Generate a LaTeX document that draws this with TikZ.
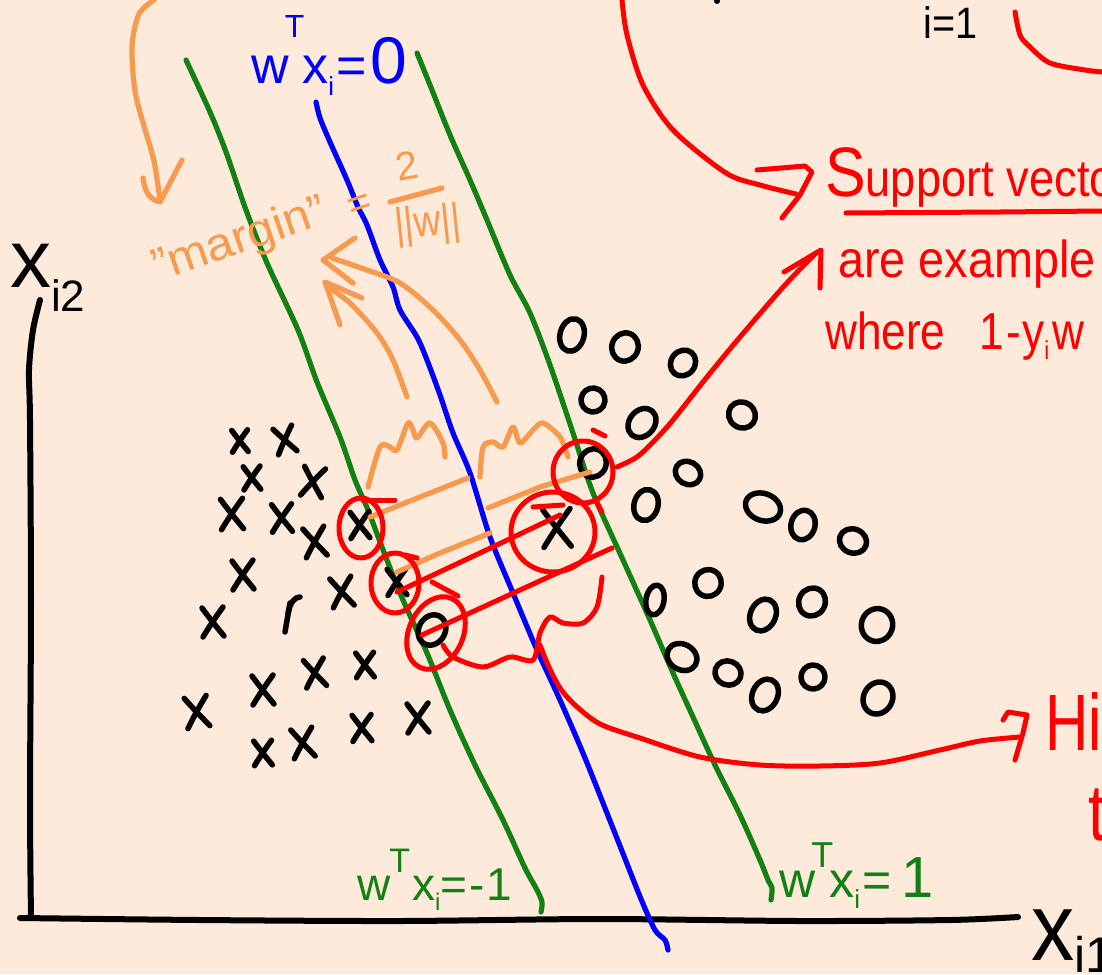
\documentclass[tikz,border=0pt]{standalone}
\usepackage{fontspec}
\setmainfont{Liberation Sans}
\usepackage{graphicx}
\definecolor{bg}{HTML}{FDEADB}
\definecolor{org}{HTML}{F79A4D}
\definecolor{grn}{HTML}{128012}
\definecolor{blu}{HTML}{0000FF}
\definecolor{rd}{HTML}{FF0000}
\begin{document}
\begin{tikzpicture}[x=1pt,y=-1pt, line cap=round, line join=round,
 ink/.style={black, line width=5.5pt},
 gline/.style={grn, line width=5.2pt},
 bline/.style={blu, line width=5.2pt},
 oline/.style={org, line width=5.2pt},
 rline/.style={rd, line width=5pt},
 axisline/.style={black, line width=6pt},
 lbl/.style={inner sep=0pt, anchor=base west},
 xm/.pic={\draw[ink] (-11,-14) .. controls (-3,-3) and (3,4) .. (11,14);
          \draw[ink] (10,-15) .. controls (2,-4) and (-4,5) .. (-10,15);},
 om/.pic={\draw[ink] (0,0) ellipse (12pt and 15pt);},
]
\useasboundingbox (0,0) rectangle (1102,974);
\fill[bg] (0,0) rectangle (1102,974);
\clip (0,0) rectangle (1102,974);

% axes
\draw[axisline] plot[smooth] coordinates {(40,300) (33,330) (29,370) (30,420) (31,600) (30,800) (31,918)};
\draw[axisline] plot[smooth] coordinates {(20,918) (200,920) (400,921) (600,919) (800,921) (950,920) (1018,917)};

% margin lines
\draw[gline] plot[smooth, tension=0.5] coordinates {(186,60) (210,112) (226,152) (246,210) (267,263) (298,330) (317,382) (340,437) (355,480) (368,510) (385,555) (403,600) (427,653) (450,710) (475,765) (503,820) (525,868) (537,890) (542,902) (541,912)};
\draw[bline] plot[smooth, tension=0.5] coordinates {(316,102) (320,118) (330,142) (347,180) (358,207) (367,225) (380,260) (393,287) (400,310) (417,337) (427,360) (440,395) (453,433) (470,473) (490,537) (513,593) (537,650) (560,700) (585,758) (620,846) (641,899) (655,930) (665,940) (668,950)};
\draw[gline] plot[smooth, tension=0.5] coordinates {(417,53) (430,85) (450,135) (470,180) (487,220) (510,275) (530,313) (550,365) (573,433) (593,493) (623,560) (650,620) (673,673) (693,717) (715,765) (740,815) (760,860) (768,880) (772,888) (771,900)};

% labels of lines
\node[lbl, blu, font=\fontsize{52}{60}\selectfont] (lb0) at (251,83)
  {w\kern-4pt\raisebox{46pt}{\fontsize{32}{34}\selectfont T}\kern-2pt x\raisebox{-12pt}{\fontsize{26}{28}\selectfont i}\kern2pt=\kern4pt{\fontsize{66}{70}\selectfont 0}};
\node[lbl, grn, font=\fontsize{46}{50}\selectfont] (lbm) at (357,900)
  {w\kern-1pt\raisebox{28pt}{\fontsize{34}{36}\selectfont T}\kern2pt x\raisebox{-10pt}{\fontsize{24}{26}\selectfont i}=\kern2pt-\kern2pt1};
\node[lbl, grn, font=\fontsize{50}{54}\selectfont] (lbp) at (779,897)
  {w\kern-4pt\raisebox{30pt}{\fontsize{36}{38}\selectfont T}\kern-4pt x\raisebox{-11pt}{\fontsize{26}{28}\selectfont i}\kern2pt=\kern10pt{\fontsize{58}{60}\selectfont 1}};

% axis labels
\node[lbl, font=\fontsize{82}{90}\selectfont] (xi2) at (10,287) {x\raisebox{-24pt}{\fontsize{44}{48}\selectfont i2}};
\node[lbl, font=\fontsize{96}{100}\selectfont] (xi1) at (1031,960) {\scalebox{0.9}[1]{x}\raisebox{-12pt}{\fontsize{50}{52}\selectfont i1}};

% black x points
\foreach \p/\s/\r in {(240,441)/0.75/0, (285,440)/0.9/10, (252,478)/0.8/0, (313,482)/1/-10, (232,514)/1.05/0,
  (282,518)/0.95/0, (315,542)/1/5, (243,575)/1/0, (342,592)/1/5, (213,622)/1/0, (197,712)/1.05/5,
  (263,690)/1/0, (315,673)/0.95/5, (365,665)/0.85/0, (263,753)/0.85/0, (303,743)/1/5, (362,728)/0.9/0,
  (418,718)/1/0, (360,525)/0.9/0, (397,582)/0.9/0, (557,528)/1.3/0}
  \pic[rotate=\r, scale=\s] at \p {xm};
\draw[ink] (290,603) -- (285,632);
\draw[ink] (288,614) .. controls (290,602) and (295,597) .. (300,597);

% black o points
\foreach \p/\a/\b/\r in {(572,335)/1/1.1/-15, (625,347)/1.1/0.95/-20, (683,363)/1/0.9/-40, (593,400)/1/0.8/-30,
  (642,423)/1.05/1.05/-40, (742,415)/1.15/0.85/-35, (593,463)/1.1/0.95/-20, (688,473)/1.1/0.75/-30,
  (646,505)/1/1.05/-15, (763,507)/1.5/0.9/-20, (803,525)/1/1/-15, (853,541)/1.15/0.8/-20,
  (655,600)/0.75/1/-10, (708,583)/1.1/0.9/-30, (763,615)/1.05/1.1/-25, (812,602)/1.1/0.95/-30,
  (877,625)/1.3/1.1/-20, (682,657)/1.3/0.85/-30, (728,673)/1.1/0.8/-20, (765,695)/1.05/1.1/-25,
  (813,677)/1/0.8/-20, (878,698)/1.2/1.1/-30, (432,630)/1.1/1.05/-30}
  \pic[rotate=\r, xscale=\a, yscale=\b] at \p {om};

% orange annotations
\draw[oline] plot[smooth] coordinates {(154,0) (139,14) (132,46) (135,91) (144,126) (154,161) (160,200)};
\draw[oline] (143,178) .. controls (145,195) and (152,200) .. (160,202) -- (182,160);
\node[lbl, org, rotate=19, font=\fontsize{46}{50}\selectfont] (mg) at (158,282) {\scalebox{1.06}[1]{"margin"}};
\node[lbl, org, rotate=19, font=\fontsize{40}{44}\selectfont] (eq) at (352,220) {=};
\node[lbl, org, rotate=10, font=\fontsize{40}{44}\selectfont] (two) at (398,182) {2};
\draw[oline] (390,202) -- (442,188);
\node[lbl, org, rotate=6, font=\fontsize{44}{48}\selectfont] (nw) at (396,240) {\scalebox{0.85}[1]{||w||}};
\draw[oline] plot[smooth] coordinates {(497,402) (480,370) (460,340) (433,310) (400,283) (367,270) (332,258)};
\draw[oline] (355,238) -- (323,260) -- (353,283);
\draw[oline] plot[smooth] coordinates {(407,397) (393,360) (377,333) (350,303) (328,287)};
\draw[oline] (362,298) -- (325,282) -- (340,325);
\draw[oline] plot[smooth] coordinates {(368,487) (380,447) (390,447) (397,450) (408,423) (413,430) (417,438) (430,423) (443,443) (445,457)};
\draw[oline] plot[smooth] coordinates {(480,477) (483,447) (493,442) (503,447) (513,427) (520,443) (533,430) (543,423) (560,437) (568,457)};
\draw[oline] (370,517) -- (420,497) -- (468,478);
\draw[oline] (488,508) -- (540,487) -- (590,472);
\draw[oline] (397,572) -- (440,553) -- (490,533);

% red circles
\draw[rline] (361,528) ellipse (22pt and 30pt);
\draw[rline] (363,500) -- (395,500);
\draw[rline] (395,583) ellipse (24pt and 30pt);
\draw[rline] (405,555) -- (417,558);
\draw[rline, rotate around={-25:(436,633)}] (436,633) ellipse (27pt and 38pt);
\draw[rline] (432,582) -- (458,596);
\draw[rline] (553,532) ellipse (42pt and 40pt);
\draw[rline] (533,507) -- (563,505);
\draw[rline] (583,472) ellipse (30pt and 31pt);
\draw[rline] (593,430) -- (605,436);
\draw[rline] (597,503) -- (602,512);
% red connecting lines
\draw[rline] (397,592) -- (480,553) -- (560,515);
\draw[rline] (422,635) -- (520,590) -- (612,548);
\draw[rline] plot[smooth] coordinates {(443,645) (453,657) (483,667) (510,657) (533,660) (540,633) (550,617) (563,623) (583,623) (597,607) (602,577)};
% arrow to hinge
\draw[rline] plot[smooth] coordinates {(540,645) (548,665) (560,688) (575,705) (600,724) (640,738) (700,757) (760,765) (820,766) (880,763) (940,750) (980,741) (1020,737)};
\draw[rline] (1003,720) -- (1008,712) -- (1027,715) -- (1023,733) -- (1015,760);
% arrow to support vectors
\draw[rline] plot[smooth] coordinates {(617,467) (637,457) (655,440) (673,420) (707,377) (740,337) (785,285) (815,254)};
\draw[rline] (784,272) -- (821,250) -- (820,288);
% top arcs
\draw[rline] plot[smooth] coordinates {(622,0) (627,35) (643,85) (673,130) (726,173) (760,185) (796,194)};
\draw[rline] (757,170) -- (805,166) -- (812,172) -- (800,195) -- (782,218);
\draw[rline] plot[smooth] coordinates {(1015,12) (1020,35) (1029,46) (1050,63) (1085,70) (1102,72)};
\fill (717,1) circle (3pt);
\node[lbl, font=\fontsize{44}{48}\selectfont] (ieq) at (923,38) {\scalebox{0.9}[1]{i=1}};

% red text
\node[lbl, rd, font=\fontsize{52}{60}\selectfont] (sv) at (825,196) {\scalebox{0.87}[1]{{\fontsize{70}{72}\selectfont S}upport vecto}};
\draw[rline] (846,213) -- (1000,212) -- (1102,211);
\node[lbl, rd, font=\fontsize{52}{60}\selectfont] (ae) at (838,277) {\scalebox{0.9}[1]{are example}};
\node[lbl, rd, font=\fontsize{52}{60}\selectfont] (wh) at (825,349) {\scalebox{0.85}[1]{where\kern40pt 1\kern3pt-\kern1pt y\raisebox{-10pt}{\fontsize{26}{28}\selectfont i}\kern4pt w}};
\node[lbl, rd, font=\fontsize{80}{84}\selectfont] (hi) at (1045,750) {\scalebox{0.75}[1]{Hi}};
\node[lbl, rd, font=\fontsize{80}{84}\selectfont] (tt) at (1088,840) {\scalebox{0.8}[1]{t}};
\end{tikzpicture}
\end{document}
